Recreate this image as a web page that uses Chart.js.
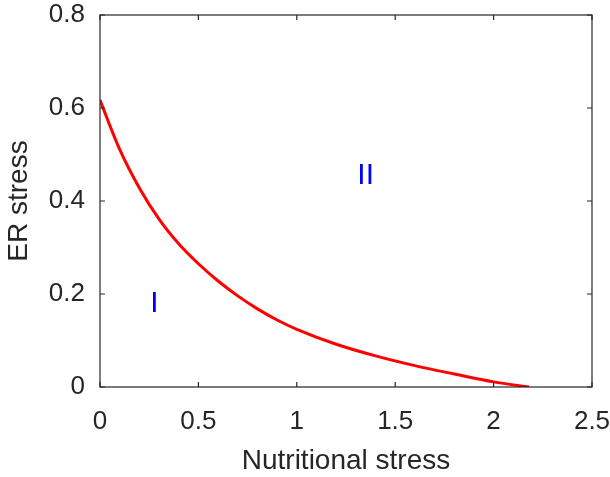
<!DOCTYPE html>
<html>
<head>
<meta charset="utf-8">
<script src="https://cdn.jsdelivr.net/npm/chart.js@4"></script>
<style>
html,body{margin:0;padding:0;background:#fff;}
#wrap{width:610px;height:477px;}
</style>
</head>
<body>
<div id="wrap"><canvas id="c" width="610" height="477"></canvas></div>
<script>
// Data
const nutritionalStress = [0, 0.1, 0.2, 0.3, 0.4, 0.5, 0.6, 0.7, 0.8, 0.9, 1.0, 1.2, 1.4, 1.6, 1.8, 2.0, 2.18];
const erStress          = [0.617, 0.511, 0.428, 0.361, 0.308, 0.265, 0.228, 0.196, 0.168, 0.144, 0.124, 0.092, 0.067, 0.046, 0.028, 0.011, 0.0];
const xTicks = [0, 0.5, 1, 1.5, 2, 2.5];
const yTicks = [0, 0.2, 0.4, 0.6, 0.8];
const regionLabels = ['I', 'II'];
const regionX = [0.276, 1.35];
const regionY = [0.178, 0.455];

const axisColor = '#262626';
const fontFam = '"Liberation Sans", Arial, Helvetica, sans-serif';

const boxPlugin = {
  id: 'boxPlugin',
  afterDatasetsDraw(chart) {
    const {ctx, chartArea: a, scales: {x, y}} = chart;
    ctx.save();
    ctx.strokeStyle = axisColor;
    ctx.lineWidth = 1.2;
    ctx.strokeRect(a.left, a.top, a.right - a.left, a.bottom - a.top);
    const tl = 5;
    ctx.beginPath();
    xTicks.forEach(v => {
      const px = x.getPixelForValue(v);
      ctx.moveTo(px, a.bottom); ctx.lineTo(px, a.bottom - tl);
      ctx.moveTo(px, a.top); ctx.lineTo(px, a.top + tl);
    });
    yTicks.forEach(v => {
      const py = y.getPixelForValue(v);
      ctx.moveTo(a.left, py); ctx.lineTo(a.left + tl, py);
      ctx.moveTo(a.right, py); ctx.lineTo(a.right - tl, py);
    });
    ctx.stroke();
    ctx.fillStyle = '#0000FF';
    ctx.font = '30px ' + fontFam;
    ctx.textAlign = 'center';
    ctx.textBaseline = 'middle';
    regionLabels.forEach((t, i) => {
      ctx.fillText(t, x.getPixelForValue(regionX[i]), y.getPixelForValue(regionY[i]));
    });
    ctx.restore();
  }
};

new Chart(document.getElementById('c'), {
  type: 'scatter',
  data: {
    datasets: [{
      data: nutritionalStress.map((v, i) => ({x: v, y: erStress[i]})),
      showLine: true,
      borderColor: '#FF0000',
      borderWidth: 3,
      pointRadius: 0,
      cubicInterpolationMode: 'monotone',
      fill: false
    }]
  },
  options: {
    responsive: false,
    animation: false,
    devicePixelRatio: 1,
    layout: {padding: 0},
    plugins: {legend: {display: false}, tooltip: {enabled: false}},
    scales: {
      x: {
        type: 'linear', min: 0, max: 2.5,
        afterFit(s) { s.height = 90; s.paddingRight = 18; s.paddingLeft = 0; },
        afterBuildTicks(s) { s.ticks = xTicks.map(v => ({value: v})); },
        grid: {display: false, drawTicks: false},
        border: {display: false},
        ticks: {color: axisColor, font: {family: fontFam, size: 26}, padding: 19, maxRotation: 0,
                callback: v => String(v)},
        title: {display: true, text: 'Nutritional stress', color: axisColor,
                font: {family: fontFam, size: 28, lineHeight: 1.1}, padding: {top: 0, bottom: 0}}
      },
      y: {
        type: 'linear', min: 0, max: 0.8,
        afterFit(s) { s.width = 100; s.paddingTop = 15; s.paddingBottom = 0; },
        afterBuildTicks(s) { s.ticks = yTicks.map(v => ({value: v})); },
        grid: {display: false, drawTicks: false},
        border: {display: false},
        ticks: {color: axisColor, font: {family: fontFam, size: 26}, padding: 15,
                callback: v => String(v)},
        title: {display: true, text: 'ER stress', color: axisColor,
                font: {family: fontFam, size: 28, lineHeight: 1.4}, padding: {top: 0, bottom: 0}}
      }
    }
  },
  plugins: [boxPlugin]
});
</script>
</body>
</html>
